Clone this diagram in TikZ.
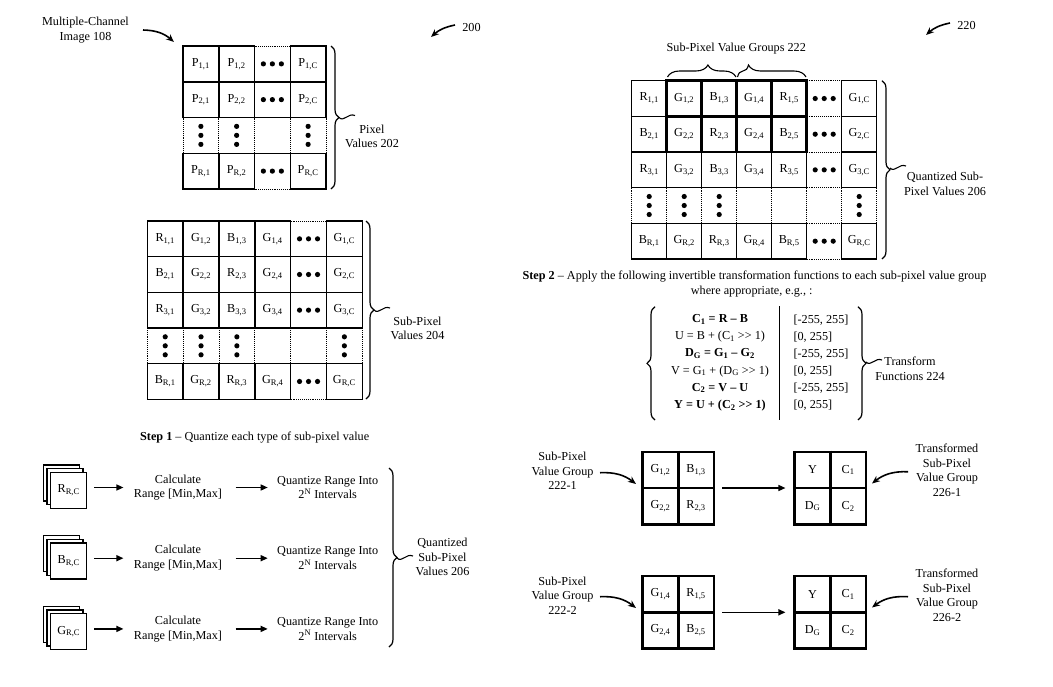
\documentclass[tikz,border=0pt]{standalone}
\usepackage{fontspec}
\setmainfont{Liberation Serif}
\usetikzlibrary{arrows.meta,decorations.pathreplacing}
\newcommand\sx[2]{#1\textsubscript{#2}}
\newcommand\gc[4]{\node[celltext] (#1-#3-#2) at ({\gx+(#2-0.5)*\gw},{\gy+(#3-0.5)*\gh}) {#4};}
\newcommand\gH[3]{\gc{#1}{#2}{#3}{}\foreach \k in {-9,0,9}{\fill ([xshift=\k pt]#1-#3-#2.center) circle (2.6);}}
\newcommand\gV[3]{\gc{#1}{#2}{#3}{}\foreach \k in {-9,0,9}{\fill ([yshift=\k pt]#1-#3-#2.center) circle (2.6);}}
\newcommand\gridlines{%
  \foreach \i in {0,...,\gnr}{%
    \foreach \j in {1,...,\gnc}{%
      \pgfmathtruncatemacro\dd{and(\j==\gdc,or(or(\i==0,\i==\gnr),\gall==1))}%
      \ifnum\dd=1
        \draw[dotline] ({\gx+(\j-1)*\gw},{\gy+\i*\gh}) -- ({\gx+\j*\gw},{\gy+\i*\gh});
      \else
        \draw[gline] ({\gx+(\j-1)*\gw},{\gy+\i*\gh}) -- ({\gx+\j*\gw},{\gy+\i*\gh});
      \fi}}%
  \foreach \j in {0,...,\gnc}{%
    \foreach \i in {1,...,\gnr}{%
      \ifnum\i=\gvr
        \draw[dotline] ({\gx+\j*\gw},{\gy+(\i-1)*\gh}) -- ({\gx+\j*\gw},{\gy+\i*\gh});
      \else
        \draw[gline] ({\gx+\j*\gw},{\gy+(\i-1)*\gh}) -- ({\gx+\j*\gw},{\gy+\i*\gh});
      \fi}}}
\newcommand\tld[2]{\draw[line width=1.1pt] (#1,#2) .. controls ({#1+5},{#2+5}) and ({#1+9},{#2-5}) .. ({#1+16},{#2-2});}
\newcommand\blockq[7]{%
  \node[draw,line width=2.4pt,minimum width=71.3pt,minimum height=72.6pt,inner sep=0] (#1) at (#2,#3) {};
  \draw[line width=2.4pt] (#1.north) -- (#1.south) (#1.west) -- (#1.east);
  \node[celltext] (#1-11) at ([xshift=-17.8pt,yshift=18.1pt]#1.center) {#4};
  \node[celltext] (#1-12) at ([xshift=17.8pt,yshift=18.1pt]#1.center) {#5};
  \node[celltext] (#1-21) at ([xshift=-17.8pt,yshift=-18.1pt]#1.center) {#6};
  \node[celltext] (#1-22) at ([xshift=17.8pt,yshift=-18.1pt]#1.center) {#7};}
\begin{document}
\begin{tikzpicture}[x=1pt,y=-1pt,
  every node/.style={font=\fontsize{12.2}{14.5}\selectfont},
  celltext/.style={inner sep=0},
  gline/.style={line width=1.5pt,line cap=rect},
  dotline/.style={line width=0.9pt,densely dotted},
  thk/.style={line width=2.6pt,line cap=rect},
  arr/.style={line width=1.4pt,-{Triangle[length=7pt,width=6pt]}},
  carr/.style={line width=1.6pt,-{Stealth[length=8pt,width=6.5pt]}},
  brc/.style={decorate,decoration={brace,amplitude=8pt},line width=1.2pt},
  sq/.style={draw,fill=white,minimum size=36pt,inner sep=0,line width=1.4pt},
  lbl/.style={align=center}]
\fill[white] (0,0) rectangle (1053,686);
\useasboundingbox (0,0) rectangle (1053,686);

% ---------- grid 1: pixel values ----------
\def\gx{183}\def\gy{46}\def\gw{35.75}\def\gh{35.75}\def\gnc{4}\def\gnr{4}\def\gdc{3}\def\gvr{3}\def\gall{0}
\gridlines
\gc{a}{1}{1}{\sx{P}{1,1}} \gc{a}{2}{1}{\sx{P}{1,2}} \gH{a}{3}{1} \gc{a}{4}{1}{\sx{P}{1,C}}
\gc{a}{1}{2}{\sx{P}{2,1}} \gc{a}{2}{2}{\sx{P}{2,2}} \gH{a}{3}{2} \gc{a}{4}{2}{\sx{P}{2,C}}
\gV{a}{1}{3} \gV{a}{2}{3} \gc{a}{3}{3}{} \gV{a}{4}{3}
\gc{a}{1}{4}{\sx{P}{R,1}} \gc{a}{2}{4}{\sx{P}{R,2}} \gH{a}{3}{4} \gc{a}{4}{4}{\sx{P}{R,C}}
\draw[brc] (331,46) -- (331,189);
\tld{339}{117.5}
\node[lbl] (pv) at (372,136.5) {Pixel\\Values 202};

\node[lbl] (mci) at (85.5,30) {Multiple-Channel\\Image 108};
\coordinate (mciA) at (143,30); \coordinate (mciB) at (174,42);
\draw[carr] (mciA) to[bend left=20] (mciB);
\node (n200) at (471.5,27) {200};
\coordinate (a200) at (455,25); \coordinate (b200) at (431,37);
\draw[carr] (a200) to[bend right=15] (b200);

% ---------- grid 2: sub-pixel values ----------
\def\gx{147.3}\def\gy{221}\def\gw{35.83}\def\gh{35.66}\def\gnc{6}\def\gnr{5}\def\gdc{5}\def\gvr{4}\def\gall{0}
\gridlines
\gc{b}{1}{1}{\sx{R}{1,1}} \gc{b}{2}{1}{\sx{G}{1,2}} \gc{b}{3}{1}{\sx{B}{1,3}} \gc{b}{4}{1}{\sx{G}{1,4}} \gH{b}{5}{1} \gc{b}{6}{1}{\sx{G}{1,C}}
\gc{b}{1}{2}{\sx{B}{2,1}} \gc{b}{2}{2}{\sx{G}{2,2}} \gc{b}{3}{2}{\sx{R}{2,3}} \gc{b}{4}{2}{\sx{G}{2,4}} \gH{b}{5}{2} \gc{b}{6}{2}{\sx{G}{2,C}}
\gc{b}{1}{3}{\sx{R}{3,1}} \gc{b}{2}{3}{\sx{G}{3,2}} \gc{b}{3}{3}{\sx{B}{3,3}} \gc{b}{4}{3}{\sx{G}{3,4}} \gH{b}{5}{3} \gc{b}{6}{3}{\sx{G}{3,C}}
\gV{b}{1}{4} \gV{b}{2}{4} \gV{b}{3}{4} \gc{b}{4}{4}{} \gc{b}{5}{4}{} \gV{b}{6}{4}
\gc{b}{1}{5}{\sx{B}{R,1}} \gc{b}{2}{5}{\sx{G}{R,2}} \gc{b}{3}{5}{\sx{R}{R,3}} \gc{b}{4}{5}{\sx{G}{R,4}} \gH{b}{5}{5} \gc{b}{6}{5}{\sx{G}{R,C}}
\draw[brc] (366,221) -- (366,399);
\tld{374}{310}
\node[lbl] (spv) at (417.5,328.5) {Sub-Pixel\\Values 204};

% ---------- step 1 ----------
\node (st1) at (254.7,438) {\textbf{Step 1} – Quantize each type of sub-pixel value};
\foreach \n/\l/\y in {1/R/490.3,2/B/561,3/G/631.7}{
  \node[sq] (s\n c) at (61.3,{\y-7.4}) {};
  \node[sq] (s\n b) at (65,{\y-3.7}) {};
  \node[sq] (s\n) at (68.7,\y) {\sx{\l}{R,C}};
  \node[lbl] (c\n) at (178,{\y-2.8}) {Calculate\\Range [Min,Max]};
  \node[lbl] (q\n) at (327.7,{\y-2.8}) {Quantize Range Into\\2\textsuperscript{N} Intervals};
  \draw[arr] ([xshift=7pt]s\n.east |- c\n.west) -- ([xshift=-7pt]c\n.west);
  \draw[arr] ([xshift=10pt]c\n.east) -- ([xshift=-6pt]q\n.west);
}
\draw[brc] (389,468) -- (389,647);
\tld{397}{558}
\node[lbl] (qsv) at (442.5,557.3) {Quantized\\Sub-Pixel\\Values 206};

% ---------- grid 3: quantized sub-pixel values ----------
\def\gx{631.7}\def\gy{80.7}\def\gw{35}\def\gh{35.66}\def\gnc{7}\def\gnr{5}\def\gdc{6}\def\gvr{4}\def\gall{1}
\gridlines
\gc{c}{1}{1}{\sx{R}{1,1}} \gc{c}{2}{1}{\sx{G}{1,2}} \gc{c}{3}{1}{\sx{B}{1,3}} \gc{c}{4}{1}{\sx{G}{1,4}} \gc{c}{5}{1}{\sx{R}{1,5}} \gH{c}{6}{1} \gc{c}{7}{1}{\sx{G}{1,C}}
\gc{c}{1}{2}{\sx{B}{2,1}} \gc{c}{2}{2}{\sx{G}{2,2}} \gc{c}{3}{2}{\sx{R}{2,3}} \gc{c}{4}{2}{\sx{G}{2,4}} \gc{c}{5}{2}{\sx{B}{2,5}} \gH{c}{6}{2} \gc{c}{7}{2}{\sx{G}{2,C}}
\gc{c}{1}{3}{\sx{R}{3,1}} \gc{c}{2}{3}{\sx{G}{3,2}} \gc{c}{3}{3}{\sx{B}{3,3}} \gc{c}{4}{3}{\sx{G}{3,4}} \gc{c}{5}{3}{\sx{R}{3,5}} \gH{c}{6}{3} \gc{c}{7}{3}{\sx{G}{3,C}}
\gV{c}{1}{4} \gV{c}{2}{4} \gV{c}{3}{4} \gc{c}{4}{4}{} \gc{c}{5}{4}{} \gc{c}{6}{4}{} \gV{c}{7}{4}
\gc{c}{1}{5}{\sx{B}{R,1}} \gc{c}{2}{5}{\sx{G}{R,2}} \gc{c}{3}{5}{\sx{R}{R,3}} \gc{c}{4}{5}{\sx{G}{R,4}} \gc{c}{5}{5}{\sx{B}{R,5}} \gH{c}{6}{5} \gc{c}{7}{5}{\sx{G}{R,C}}
\draw[thk] (666.7,80.7) rectangle (806.7,152.0);
\draw[thk] (701.7,80.7) -- (701.7,152.0) (736.7,80.7) -- (736.7,152.0) (771.7,80.7) -- (771.7,152.0)
           (666.7,116.4) -- (806.7,116.4);
\draw[decorate,decoration={brace,amplitude=12pt,aspect=0.59},line width=1.1pt] (667.5,77) -- (736,77);
\draw[decorate,decoration={brace,amplitude=12pt,aspect=0.16},line width=1.1pt] (737.5,77) -- (806,77);
\node (spg) at (736.3,49) {Sub-Pixel Value Groups 222};
\draw[brc] (882,80.7) -- (882,259);
\tld{890}{168}
\node[lbl] (qsv2) at (945,184) {Quantized Sub-\\Pixel Values 206};
\node (n220) at (966.5,25) {220};
\coordinate (a220) at (950,23); \coordinate (b220) at (926,35);
\draw[carr] (a220) to[bend right=15] (b220);

% ---------- step 2 ----------
\node (st2) at (754.5,276.7) {\textbf{Step 2} – Apply the following invertible transformation functions to each sub-pixel value group};
\node (st2b) at (751.7,291.7) {where appropriate, e.g., :};
\node[lbl,font=\fontsize{12.2}{17.1}\selectfont] (eqs) at (720,362.8) {%
  \textbf{\sx{C}{1} = R – B}\\
  U = B + (\sx{C}{1} >{}> 1)\\
  \textbf{\sx{D}{G} = \sx{G}{1} – \sx{G}{2}}\\
  V = \sx{G}{1} + (\sx{D}{G} >{}> 1)\\
  \textbf{\sx{C}{2} = V – U}\\
  \textbf{Y = U + (\sx{C}{2} >{}> 1)}};
\node[align=left,anchor=west,font=\fontsize{12.2}{17.1}\selectfont] (rng) at (790,362.8) {%
  [-255, 255]\\{}[0, 255]\\{}[-255, 255]\\{}[0, 255]\\{}[-255, 255]\\{}[0, 255]};
\draw[line width=1.2pt] (779.3,306) -- (779.3,420);
\draw[brc] (655,420) -- (655,306.7);
\draw[brc] (858,306.7) -- (858,420);
\tld{866}{362}
\node[lbl] (tf) at (910,368.8) {Transform\\Functions 224};

% ---------- groups ----------
\blockq{ga}{678.3}{488}{\sx{G}{1,2}}{\sx{B}{1,3}}{\sx{G}{2,2}}{\sx{R}{2,3}}
\blockq{ta}{830.3}{488}{Y}{\sx{C}{1}}{\sx{D}{G}}{\sx{C}{2}}
\blockq{gb}{678.3}{612.3}{\sx{G}{1,4}}{\sx{R}{1,5}}{\sx{G}{2,4}}{\sx{B}{2,5}}
\blockq{tb}{830.3}{612.3}{Y}{\sx{C}{1}}{\sx{D}{G}}{\sx{C}{2}}
\draw[arr] ([xshift=7pt]ga.east) -- ([xshift=-8pt]ta.west);
\draw[arr] ([xshift=7pt]gb.east) -- ([xshift=-8pt]tb.west);

\node[lbl] (lg1) at (562.5,471) {Sub-Pixel\\Value Group\\222-1};
\coordinate (lg1a) at (600,472.7); \coordinate (lg1b) at (636,484);
\draw[carr] (lg1a) to[bend left=20] (lg1b);
\node[lbl] (lg2) at (562.5,595.5) {Sub-Pixel\\Value Group\\222-2};
\coordinate (lg2a) at (600,596.7); \coordinate (lg2b) at (636,608);
\draw[carr] (lg2a) to[bend left=20] (lg2b);
\node[lbl] (lt1) at (947,470.5) {Transformed\\Sub-Pixel\\Value Group\\226-1};
\coordinate (lt1a) at (908,471.7); \coordinate (lt1b) at (872,483.5);
\draw[carr] (lt1a) to[bend right=20] (lt1b);
\node[lbl] (lt2) at (947,595.3) {Transformed\\Sub-Pixel\\Value Group\\226-2};
\coordinate (lt2a) at (908,596.7); \coordinate (lt2b) at (872,607.5);
\draw[carr] (lt2a) to[bend right=20] (lt2b);
\end{tikzpicture}
\end{document}
